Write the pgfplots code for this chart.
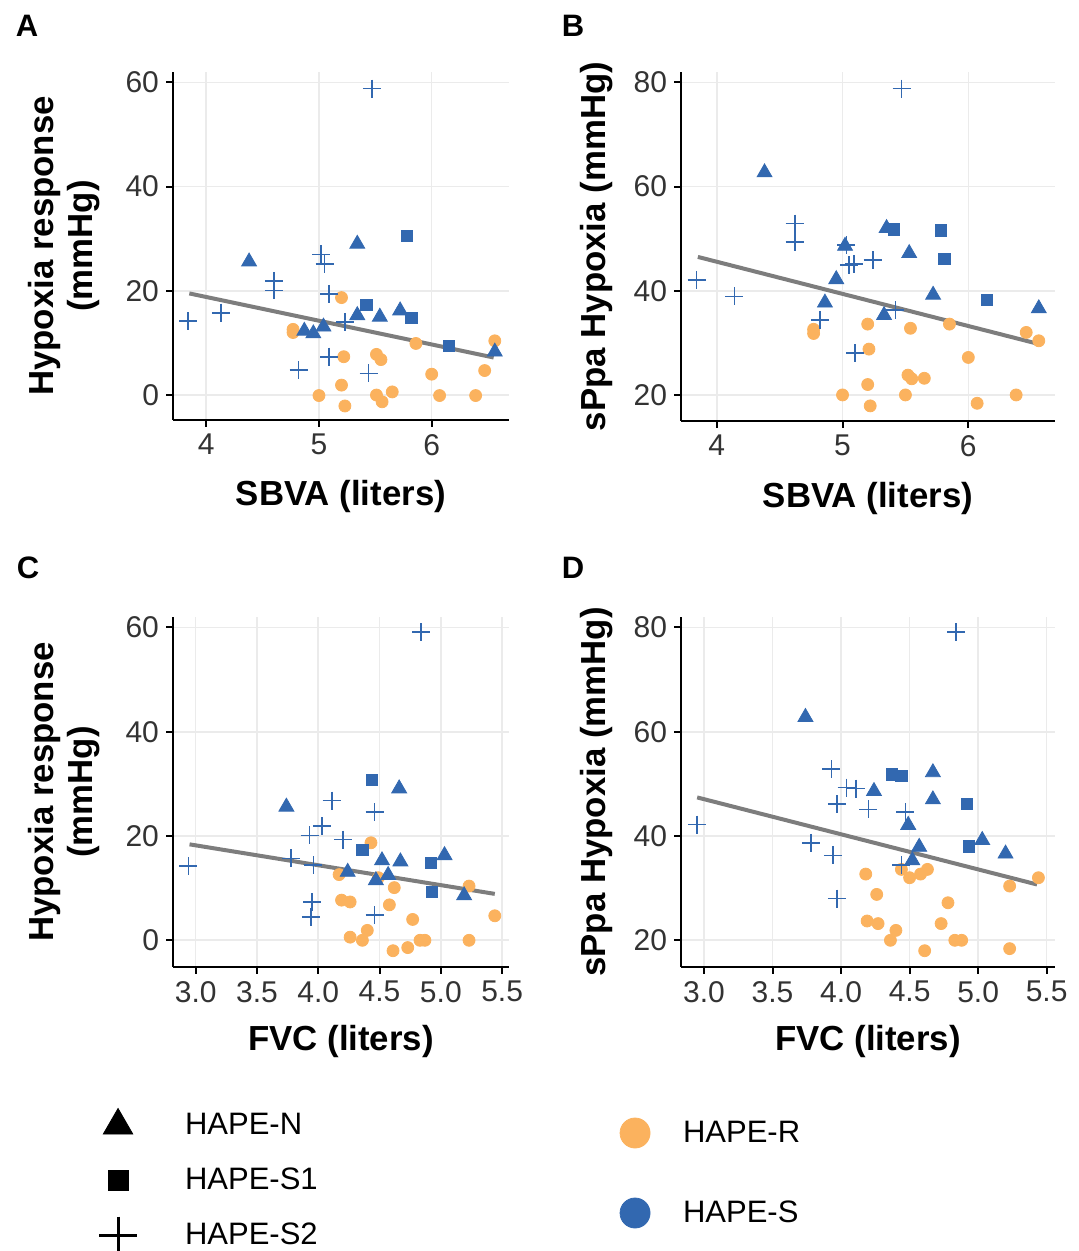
\documentclass[border=0pt]{standalone}
\usepackage{fontspec}
\setmainfont{Liberation Sans}
\usepackage{pgfplots}
\pgfplotsset{compat=1.18}

\definecolor{hapeR}{RGB}{251,178,94}
\definecolor{hapeS}{RGB}{50,104,176}
\definecolor{fitline}{RGB}{125,125,125}

\pgfplotsset{
  panel/.style={
    scale only axis,
    axis x line*=bottom, axis y line*=left,
    axis line style={black, line width=1pt},
    tick align=outside, major tick length=3.5pt,
    tick style={black, line width=1pt},
    grid=major, major grid style={draw=black!8, line width=0.8pt},
    ticklabel style={font=\fontsize{15}{15}\selectfont, text=black!80},
    /pgf/number format/assume math mode=true,
    label style={font=\bfseries\fontsize{17.4}{19.5}\selectfont},
    ylabel style={align=center},
    clip=false,
  },
  rpt/.style={only marks, mark=*, mark size=3pt, draw=hapeR, fill=hapeR},
  npt/.style={only marks, mark=triangle*, mark size=4.3pt, draw=hapeS, fill=hapeS},
  s1pt/.style={only marks, mark=square*, mark size=2.8pt, draw=hapeS, fill=hapeS},
  s2pt/.style={only marks, mark=+, mark size=4.5pt, draw=hapeS, line width=0.8pt},
  fit/.style={no marks, draw=fitline, line width=2pt},
  sbva/.style={xmin=3.705, xmax=6.686, xtick={4,5,6}, xlabel={SBVA (liters)},
    xlabel style={at={(axis description cs:0.5,-0.221)}, anchor=center}},
  fvc/.style={xmin=2.815, xmax=5.556, xtick={3,3.5,...,5.5}, xlabel={FVC (liters)},
    xticklabel style={/pgf/number format/.cd, fixed, fixed zerofill, precision=1},
    xlabel style={at={(axis description cs:0.5,-0.214)}, anchor=center}},
  hyp/.style={ymin=-4.79, ymax=62.0, ytick={0,20,40,60},
    ylabel={Hypoxia response\\(mmHg)},
    ylabel style={at={(axis description cs:-0.324,0.5)}, anchor=center}},
  sppa/.style={ymin=15.0, ymax=82.0, ytick={20,40,60,80},
    ylabel={sPpa Hypoxia (mmHg)},
    ylabel style={at={(axis description cs:-0.227,0.5)}, anchor=center}},
}

\begin{document}
\begin{tikzpicture}
\useasboundingbox (0pt,0pt) rectangle (539.5pt,625.5pt);

% panel letters
\node[font=\bfseries\fontsize{15.5}{15.5}\selectfont] at (13.5pt,612.5pt) {A};
\node[font=\bfseries\fontsize{15.5}{15.5}\selectfont] at (286.5pt,612.5pt) {B};
\node[font=\bfseries\fontsize{15.5}{15.5}\selectfont] at (14pt,341.5pt) {C};
\node[font=\bfseries\fontsize{15.5}{15.5}\selectfont] at (286.5pt,341.5pt) {D};

% A: SBVA vs hypoxia response
\begin{axis}[panel, sbva, hyp, at={(86.5pt,415.5pt)}, anchor=south west,
  width=168pt, height=174pt]
\addplot[fit] coordinates {(3.85,19.5) (6.55,7.2)};
\addplot[rpt] coordinates {
  (4.77,12.6) (4.77,12.0) (5.20,18.7) (5.22,7.35) (5.51,7.8) (5.55,6.8)
  (5.86,9.9) (6.56,10.4) (6.47,4.7) (6.00,4.0) (5.20,1.9) (5.00,-0.1)
  (5.23,-2.1) (5.51,0.0) (5.56,-1.3) (5.65,0.6) (6.07,-0.1) (6.39,-0.1)};
\addplot[npt] coordinates {
  (4.38,25.6) (5.34,29.0) (4.87,12.3) (4.95,11.8) (5.04,13.1) (5.34,15.3)
  (5.54,15.0) (5.72,16.2) (6.56,8.3)};
\addplot[s1pt] coordinates {(5.78,30.6) (5.42,17.3) (5.82,14.8) (6.15,9.5)};
\addplot[s2pt] coordinates {
  (5.47,58.8) (3.84,14.2) (4.13,15.8) (4.60,21.9) (4.60,20.1) (5.02,27.0)
  (5.05,25.1) (5.09,19.4) (5.23,14.0) (5.09,7.35) (4.82,4.8) (5.44,4.15)};
\end{axis}

% B: SBVA vs sPpa
\begin{axis}[panel, sbva, sppa, at={(340.5pt,415pt)}, anchor=south west,
  width=187pt, height=174.5pt, xmin=3.716, xmax=6.689,
  xlabel style={at={(axis description cs:0.5,-0.221)}}]
\addplot[fit] coordinates {(3.85,46.5) (6.54,29.9)};
\addplot[rpt] coordinates {
  (4.77,32.6) (4.77,31.8) (5.20,33.6) (5.21,28.8) (5.20,22.0) (5.00,20.0)
  (5.22,17.9) (5.54,32.8) (5.52,23.8) (5.55,23.1) (5.65,23.2) (5.50,20.0)
  (5.85,33.6) (6.00,27.2) (6.07,18.4) (6.38,20.0) (6.46,32.0) (6.56,30.4)};
\addplot[npt] coordinates {
  (4.38,62.7) (4.86,37.7) (4.95,42.2) (5.02,48.6) (5.33,35.3) (5.35,52.0)
  (5.53,47.2) (5.72,39.2) (6.56,36.6)};
\addplot[s1pt] coordinates {(5.41,51.8) (5.78,51.6) (5.81,46.1) (6.15,38.2)};
\addplot[s2pt] coordinates {
  (5.47,78.8) (3.84,42.1) (4.14,38.9) (4.62,52.9) (4.62,49.4) (4.82,34.4)
  (5.03,48.8) (5.05,44.9) (5.09,45.1) (5.24,45.9) (5.10,28.0) (5.42,36.3)};
\end{axis}

% C: FVC vs hypoxia response
\begin{axis}[panel, fvc, hyp, at={(86.5pt,142pt)}, anchor=south west,
  width=168pt, height=175pt, ymin=-5.12, ymax=62.0]
\addplot[fit] coordinates {(2.95,18.4) (5.44,8.9)};
\addplot[rpt] coordinates {
  (4.17,12.6) (4.19,7.7) (4.26,7.35) (4.43,18.7) (4.49,12.0) (4.62,10.1)
  (4.58,6.8) (4.77,4.0) (4.26,0.6) (4.36,0.0) (4.40,1.9) (4.61,-2.0)
  (4.73,-1.4) (4.83,0.0) (4.87,0.0) (5.23,10.4) (5.23,0.0) (5.44,4.7)};
\addplot[npt] coordinates {
  (3.74,25.6) (4.66,29.1) (4.24,13.1) (4.47,11.5) (4.52,15.3) (4.67,15.1)
  (4.57,12.5) (5.03,16.3) (5.19,8.6)};
\addplot[s1pt] coordinates {(4.44,30.7) (4.36,17.3) (4.92,14.9) (4.93,9.3)};
\addplot[s2pt] coordinates {
  (4.84,59.1) (2.94,14.2) (3.78,15.7) (3.93,20.1) (4.03,21.9) (4.11,26.8)
  (4.20,19.3) (3.96,14.4) (3.95,7.35) (3.94,4.5) (4.46,24.6) (4.46,4.8)};
\end{axis}

% D: FVC vs sPpa
\begin{axis}[panel, fvc, sppa, at={(340.5pt,142pt)}, anchor=south west,
  width=187pt, height=175pt, xmin=2.832, xmax=5.561, ymin=14.88, ymax=82.0]
\addplot[fit] coordinates {(2.95,47.4) (5.43,30.7)};
\addplot[rpt] coordinates {
  (4.18,32.7) (4.26,28.8) (4.19,23.7) (4.27,23.2) (4.36,20.0) (4.40,21.9)
  (4.44,33.6) (4.50,32.0) (4.58,32.7) (4.63,33.6) (4.61,18.0) (4.73,23.2)
  (4.78,27.2) (4.83,20.0) (4.88,20.0) (5.23,30.4) (5.23,18.4) (5.44,32.0)};
\addplot[npt] coordinates {
  (3.74,62.8) (4.24,48.6) (4.67,52.2) (4.67,47.0) (4.49,42.1) (4.57,37.9)
  (4.52,35.3) (5.03,39.2) (5.20,36.6)};
\addplot[s1pt] coordinates {(4.37,51.8) (4.44,51.6) (4.92,46.1) (4.93,38.0)};
\addplot[s2pt] coordinates {
  (4.84,79.1) (2.95,42.2) (3.78,38.7) (3.93,52.8) (3.97,46.1) (3.94,36.3)
  (3.97,28.0) (4.04,49.3) (4.11,49.1) (4.20,45.1) (4.47,44.6) (4.44,34.4)};
\end{axis}

% legend: group shapes
\begin{axis}[at={(0pt,0pt)}, anchor=south west, scale only axis,
  width=539.5pt, height=625.5pt, hide axis,
  xmin=0, xmax=1, ymin=0, ymax=1,
  legend cell align=left,
  legend style={at={(axis description cs:0.0779,0.1147)}, anchor=north west,
    draw=none, fill=none, inner sep=0pt, outer sep=0pt,
    row sep=9.25pt, column sep=16.5pt,
    font=\fontsize{15.5}{15.5}\selectfont, nodes={inner sep=0pt}},
  legend image code/.code={\path[draw=none, fill=none] (-17pt,-9pt) rectangle (17pt,9pt);
    \draw[#1] plot coordinates {(0pt,0pt)};},
]
\addlegendimage{mark=triangle*, mark size=8.5pt, black}
\addlegendentry{HAPE-N}
\addlegendimage{mark=square*, mark size=5pt, black}
\addlegendentry{HAPE-S1}
\addlegendimage{mark=+, mark size=9.5pt, black, line width=1.5pt}
\addlegendentry{HAPE-S2}
\end{axis}

% legend: colours
\begin{axis}[at={(0pt,0pt)}, anchor=south west, scale only axis,
  width=539.5pt, height=625.5pt, hide axis,
  xmin=0, xmax=1, ymin=0, ymax=1,
  legend cell align=left,
  legend style={at={(axis description cs:0.5663,0.1087)}, anchor=north west,
    draw=none, fill=none, inner sep=0pt, outer sep=0pt,
    row sep=22pt, column sep=12pt,
    font=\fontsize{15.5}{15.5}\selectfont, nodes={inner sep=0pt}},
  legend image code/.code={\path[draw=none, fill=none] (-12pt,-9pt) rectangle (12pt,9pt);
    \draw[#1] plot coordinates {(0pt,0pt)};},
]
\addlegendimage{mark=*, mark size=7.5pt, draw=hapeR, fill=hapeR}
\addlegendentry{HAPE-R}
\addlegendimage{mark=*, mark size=7.5pt, draw=hapeS, fill=hapeS}
\addlegendentry{HAPE-S}
\end{axis}
\end{tikzpicture}
\end{document}
